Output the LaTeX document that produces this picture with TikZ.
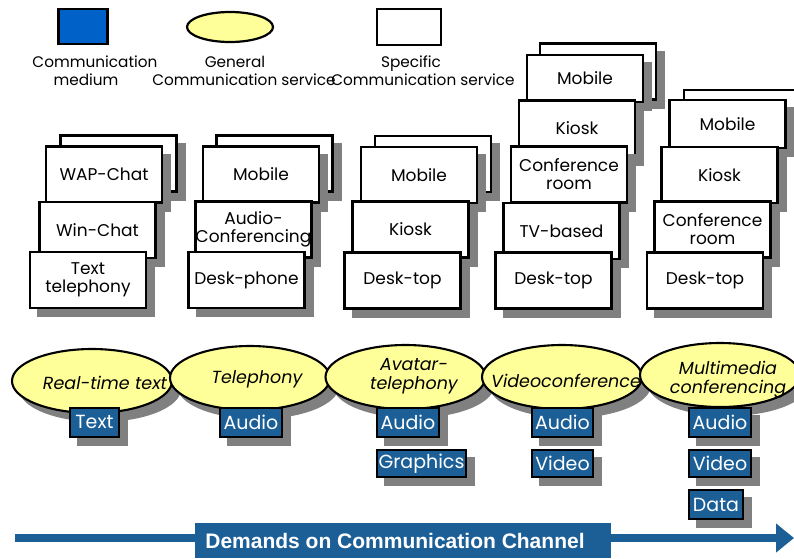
\documentclass[tikz,border=0pt]{standalone}
\usepackage{fontspec}
\setmainfont{Poppins}
\newfontfamily\bannerfont{Liberation Sans}
\usetikzlibrary{shapes.geometric,arrows.meta,calc}
\definecolor{medblue}{HTML}{1C5F97}
\definecolor{legblue}{HTML}{0062C8}
\definecolor{genyel}{HTML}{FFFF99}
\definecolor{shadowc}{RGB}{128,128,128}
\tikzset{
  svc/.style={draw=black,line width=2.1pt,fill=white,rectangle,minimum width=116pt,minimum height=56pt,inner sep=1pt,text width=112pt,align=center,font=\fontsize{17}{18}\selectfont},
  gen/.style={draw=black,line width=2.1pt,fill=genyel,ellipse,minimum width=160pt,minimum height=64pt,inner sep=0pt},
  gentxt/.style={inner sep=0pt,align=center,font=\fontsize{17.5}{19}\selectfont\itshape},
  med/.style={draw=black,line width=2pt,fill=medblue,rectangle,minimum height=29pt,inner sep=1pt,text=white,font=\fontsize{19}{20}\selectfont},
  legtxt/.style={align=center,font=\fontsize{15.3}{18}\selectfont,inner sep=0pt}
}
% grey shadow of a box: centre x, centre y, width, height (8pt right, 8pt down)
\newcommand{\shrect}[4]{%
  \fill[shadowc] ($(#1,#2)+(8-#3/2-1,8-#4/2-1)$) rectangle ($(#1,#2)+(8+#3/2+1,8+#4/2+1)$);}
% grey shadow of an ellipse: centre x, centre y
\newcommand{\shell}[2]{%
  \fill[shadowc] ($(#1,#2)+(8,8)$) ellipse [x radius=81, y radius=33];}
\begin{document}
\begin{tikzpicture}[x=1pt,y=-1pt]
\useasboundingbox (0,0) rectangle (794,558);
% legend
\node[draw=black,line width=2.2pt,fill=legblue,minimum width=49pt,minimum height=35pt] (legmed) at (83,26.5) {};
\node[draw=black,line width=2.2pt,fill=genyel,ellipse,minimum width=86pt,minimum height=30pt] (leggen) at (230,27) {};
\node[draw=black,line width=2.2pt,fill=white,minimum width=64pt,minimum height=36pt] (legspec) at (409,27) {};
\node[legtxt] (legmedt) at (95,71) {Communication\\\hspace*{-18pt}medium};
\node[legtxt] (leggent) at (244,71) {\hspace*{-18pt}General\\Communication service};
\node[legtxt] (legspect) at (423,71) {\hspace*{-24pt}Specific\\Communication service};
% column 1
\shrect{118.5}{163.5}{116}{56}\node[svc] (back1) at (118.5,163.5) {};
\shrect{104}{174.5}{116}{56}\node[svc] (c1a) at (104,174.5) {WAP-Chat};
\shrect{97.5}{230}{116}{56}\node[svc] (c1b) at (97.5,230) {Win-Chat};
\shrect{88}{280}{116}{56}\node[svc] (c1c) at (88,280) {Text\\telephony};
% column 2
\shrect{274.5}{163.5}{116}{56}\node[svc] (back2) at (274.5,163.5) {};
\shrect{261}{174.5}{116}{56}\node[svc] (c2a) at (261,174.5) {Mobile};
\shrect{253.5}{229.5}{116}{56}\node[svc] (c2b) at (253.5,229.5) {Audio-\\\makebox[0pt]{Conferencing}};
\shrect{246.5}{280}{116}{56}\node[svc] (c2c) at (246.5,280) {\mbox{Desk-phone}};
% column 3
\shrect{433}{164}{116}{56}\node[svc] (back3) at (433,164) {};
\shrect{419}{175}{116}{56}\node[svc] (c3a) at (419,175) {Mobile};
\shrect{410.5}{229.5}{116}{56}\node[svc] (c3b) at (410.5,229.5) {Kiosk};
\shrect{402.5}{280.5}{116}{56}\node[svc] (c3c) at (402.5,280.5) {Desk-top};
% column 4
\shrect{598}{71.5}{116}{56}\node[svc] (back4) at (598,71.5) {};
\shrect{585}{78.5}{116}{47}\node[svc,minimum height=47pt] (c4a) at (585,78.5) {Mobile};
\shrect{577}{128.5}{116}{56}\node[svc] (c4b) at (577,128.5) {Kiosk};
\shrect{569}{174.5}{116}{56}\node[svc] (c4c) at (569,174.5) {Conference\\room};
\shrect{561.5}{231}{116}{56}\node[svc] (c4d) at (561.5,231) {TV-based};
\shrect{553.5}{280.5}{116}{56}\node[svc] (c4e) at (553.5,280.5) {Desk-top};
% column 5
\shrect{742}{118}{116}{56}\node[svc] (back5) at (742,118) {};
\shrect{727.5}{124}{116}{48}\node[svc,minimum height=48pt] (c5a) at (727.5,124) {Mobile};
\shrect{719.5}{175}{116}{56}\node[svc] (c5b) at (719.5,175) {Kiosk};
\shrect{712.5}{229.5}{116}{56}\node[svc] (c5c) at (712.5,229.5) {Conference\\room};
\shrect{705}{280.5}{116}{56}\node[svc] (c5d) at (705,280.5) {Desk-top};
% general services and media
\shell{92}{381}\node[gen] (g1) at (92,381) {};
\node[gentxt] (g1t) at (105,383) {Real-time text};
\shrect{94.5}{422}{49}{29}\node[med,minimum width=49pt] (m1a) at (94.5,422) {Text};
\shell{250}{378}\node[gen] (g2) at (250,378) {};
\node[gentxt] (g2t) at (257,379) {Telephony};
\shrect{251}{422}{62}{29}\node[med,minimum width=62pt] (m2a) at (251,422) {Audio};
\shell{405.5}{377}\node[gen] (g3) at (405.5,377) {};
\node[gentxt] (g3t) at (414,376) {Avatar-\\telephony};
\shrect{408}{422}{62}{29}\node[med,minimum width=62pt] (m3a) at (408,422) {Audio};
\shrect{421.5}{463.5}{89}{27}\node[med,minimum width=89pt,minimum height=27pt] (m3b) at (421.5,463.5) {Graphics};
\shell{562}{377}\node[gen] (g4) at (562,377) {};
\node[gentxt,anchor=west] (g4t) at (491,381) {Videoconference};
\shrect{562.5}{422}{61}{29}\node[med,minimum width=61pt] (m4a) at (562.5,422) {Audio};
\shrect{562.5}{463.5}{61}{27}\node[med,minimum width=61pt,minimum height=27pt] (m4b) at (562.5,463.5) {Video};
\shell{720}{375}\node[gen] (g5) at (720,375) {};
\node[gentxt] (g5t) at (728,380) {Multimedia\\conferencing};
\shrect{720}{422}{62}{29}\node[med,minimum width=62pt] (m5a) at (720,422) {Audio};
\shrect{720}{463.5}{62}{27}\node[med,minimum width=62pt,minimum height=27pt] (m5b) at (720,463.5) {Video};
\shrect{716}{504.5}{54}{29}\node[med,minimum width=54pt] (m5c) at (716,504.5) {Data};
% demand arrow
\coordinate (arrS) at (15,538);
\coordinate (arrE) at (794,538);
\draw[medblue,line width=8pt,-{Triangle[length=18pt,width=28pt]}] (arrS) -- (arrE);
\node[fill=medblue,text=white,minimum width=416pt,minimum height=35pt,inner sep=0pt,font=\bannerfont\bfseries\fontsize{21}{22}\selectfont] (banner) at (403,540.5) {Demands on Communication Channel\hspace*{16pt}};
\end{tikzpicture}
\end{document}
